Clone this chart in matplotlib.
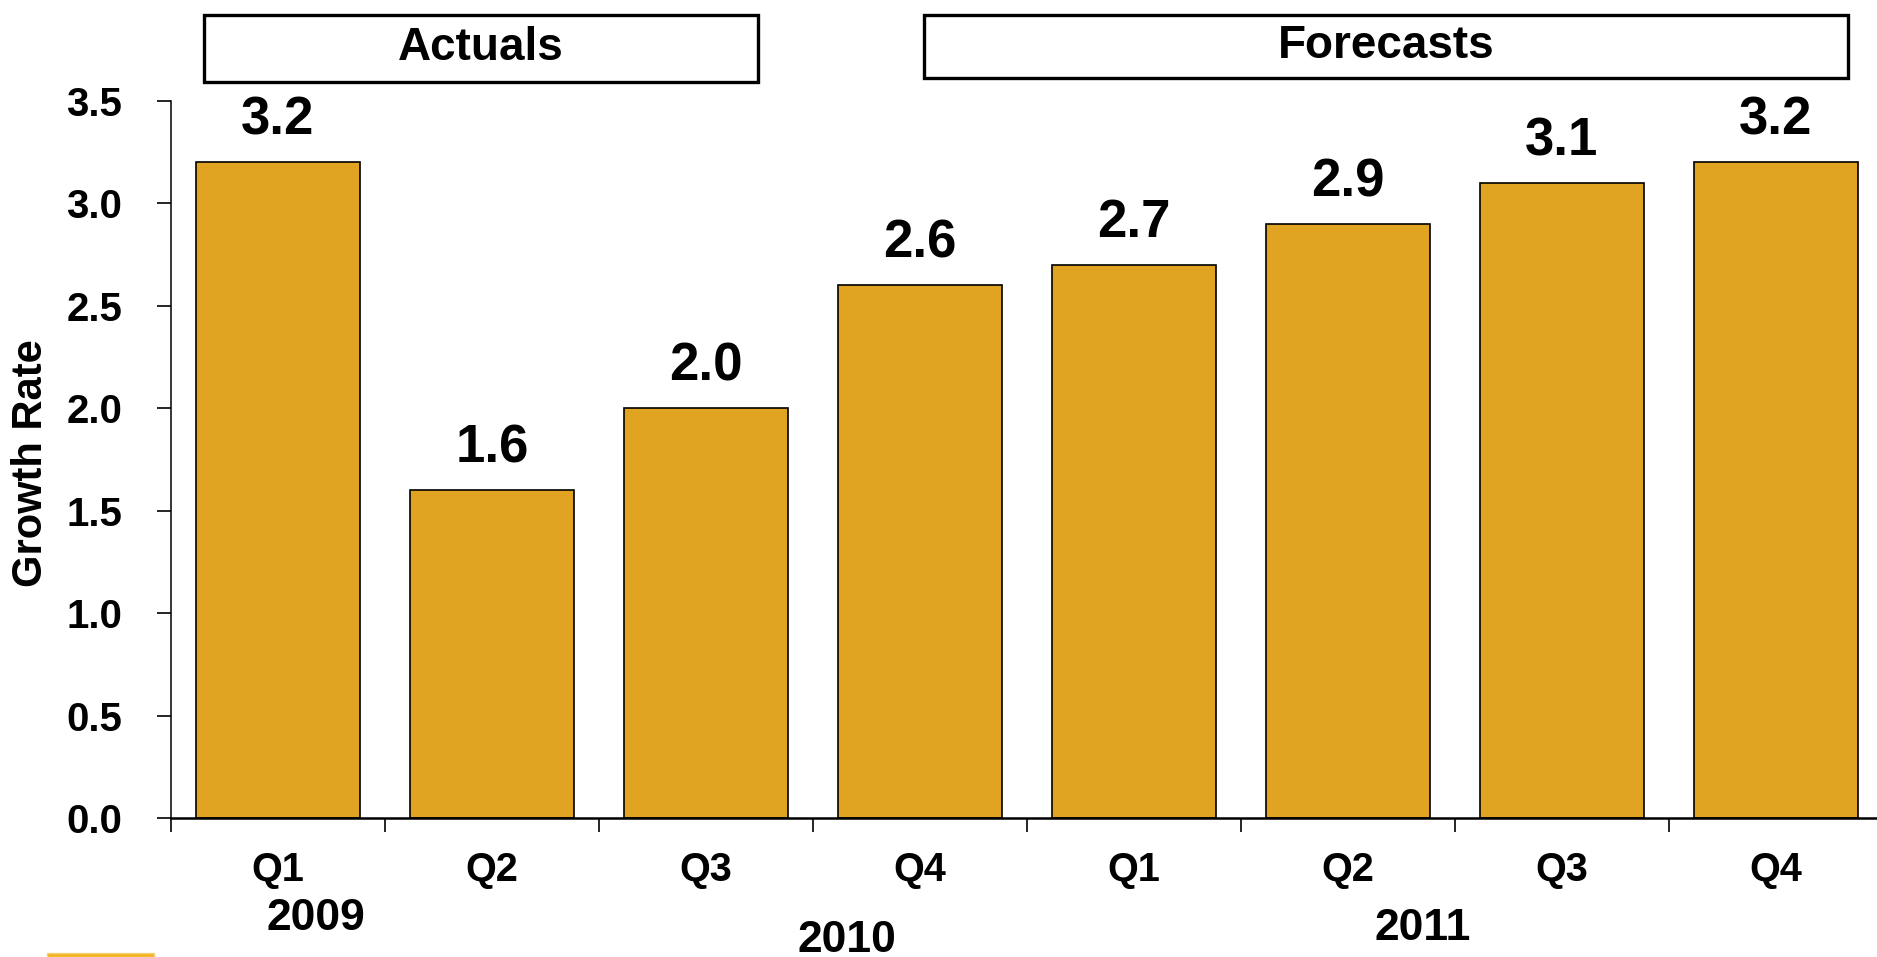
import matplotlib
matplotlib.use("Agg")
import matplotlib.pyplot as plt
from matplotlib.patches import Rectangle
import numpy as np

plt.rcParams['font.family'] = ['Liberation Sans', 'DejaVu Sans']
plt.rcParams['font.weight'] = 'bold'

quarters = ['Q1', 'Q2', 'Q3', 'Q4', 'Q1', 'Q2', 'Q3', 'Q4']
growth = [3.2, 1.6, 2.0, 2.6, 2.7, 2.9, 3.1, 3.2]
years = ['2009', '2010', '2011']
year_pos = [(316, 918), (847, 940), (1423, 929)]   # pixel centres
headers = ['Actuals', 'Forecasts']
header_boxes = [(204, 15, 758, 82), (924, 15, 1848, 78)]  # x0, y0, x1, y1 in px

W, H = 1877, 957
fig = plt.figure(figsize=(W / 100, H / 100), dpi=100)
ax = fig.add_axes([171 / W, 1 - 818 / H, 8 * 214 / W, (818 - 101) / H])

x = np.arange(len(growth))
bars = ax.bar(x, growth, width=0.766, color='#E0A322', edgecolor='black', linewidth=1.2)

for xi, v in zip(x, growth):
    ax.annotate(f'{v:.1f}', (xi, v), xytext=(0, 20), textcoords='offset points',
                ha='center', va='baseline', fontsize=38, fontweight='bold')

ax.set_xlim(-0.5, 7.5)
ax.set_ylim(0, 3.5)
ax.set_yticks(np.arange(0, 3.51, 0.5))
ax.set_yticklabels([f'{t:.1f}' for t in np.arange(0, 3.51, 0.5)], fontsize=29, fontweight='bold')
ax.set_xticks(x)
ax.set_xticklabels(quarters, fontsize=28.5, fontweight='bold')
ax.set_xticks(np.arange(-0.5, 7.0, 1.0), minor=True)
ax.tick_params(axis='x', which='major', length=0, pad=24)
ax.tick_params(axis='x', which='minor', length=10, width=1.2, direction='out')
ax.tick_params(axis='y', length=10, width=1.2, direction='out', pad=25)

for s in ['top', 'right']:
    ax.spines[s].set_visible(False)
ax.spines['left'].set_linewidth(1.1)
ax.spines['bottom'].set_linewidth(1.8)

fig.text(31 / W, 1 - 463 / H, 'Growth Rate', rotation=90, ha='center', va='center',
         fontsize=30, fontweight='bold')

for label, (px, py) in zip(years, year_pos):
    fig.text(px / W, 1 - py / H, label, ha='center', va='center', fontsize=32, fontweight='bold')

# header boxes above the bars
for label, (x0, y0, x1, y1) in zip(headers, header_boxes):
    fig.patches.append(Rectangle((x0 / W, 1 - y1 / H), (x1 - x0) / W, (y1 - y0) / H,
                                 transform=fig.transFigure, facecolor='white',
                                 edgecolor='black', linewidth=2.4))
    fig.text((x0 + x1) / 2 / W, 1 - (y0 + y1) / 2 / H, label, ha='center', va='center',
             fontsize=33, fontweight='bold')

# small gold strip at the bottom left
fig.patches.append(Rectangle((47 / W, 0), 107 / W, 4 / H, transform=fig.transFigure,
                             facecolor='#F0B41E', edgecolor='#F5D27A', linewidth=1))

fig.savefig('out.png', dpi=100)
